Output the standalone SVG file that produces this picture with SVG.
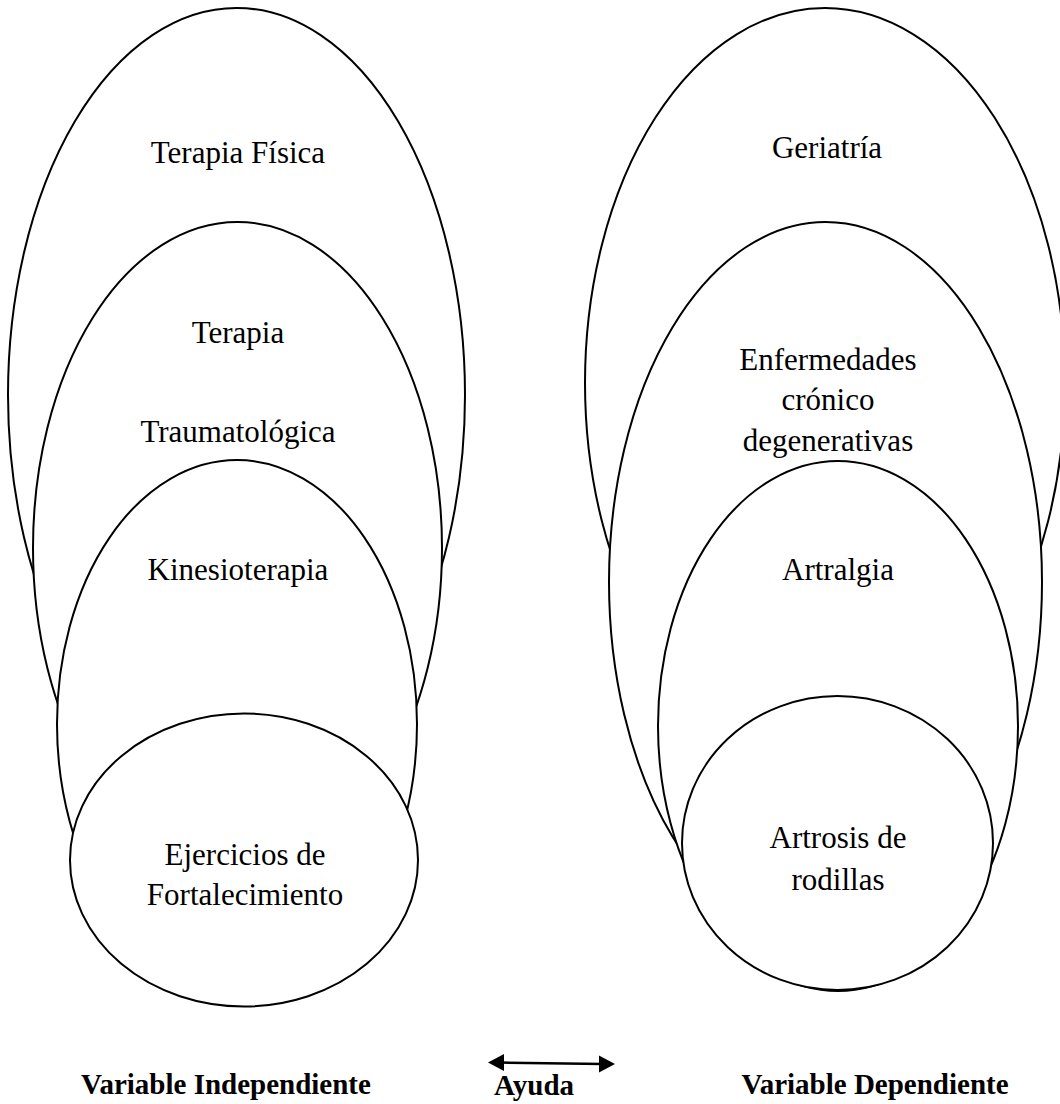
<svg xmlns="http://www.w3.org/2000/svg" width="1060" height="1104" viewBox="0 0 1060 1104">
<style>
.e{fill:#fff;stroke:#000;stroke-width:2}
.t{font-family:"Liberation Serif","Times New Roman",serif;font-size:31px;fill:#000;text-anchor:middle}
.b{font-family:"Liberation Serif","Times New Roman",serif;font-size:29px;font-weight:bold;fill:#000;text-anchor:middle}
.h{fill:#000}
</style>
<rect width="1060" height="1104" fill="#fff"/>
<g id="terapia-fisica"><ellipse class="e" cx="236.5" cy="395" rx="228.5" ry="387"/><text class="t" x="238" y="163">Terapia Física</text></g>
<g id="terapia-traumatologica"><ellipse class="e" cx="237.5" cy="548" rx="204.5" ry="326"/><text class="t" x="238" y="343">Terapia</text><text class="t" x="238" y="442">Traumatológica</text></g>
<g id="kinesioterapia"><ellipse class="e" cx="237" cy="724" rx="180" ry="264"/><text class="t" x="238" y="580">Kinesioterapia</text></g>
<g id="ejercicios"><ellipse class="e" cx="244" cy="860" rx="174" ry="146.5"/><text class="t" x="245" y="865">Ejercicios de</text><text class="t" x="245" y="905">Fortalecimiento</text></g>
<g id="geriatria"><ellipse class="e" cx="825" cy="383" rx="240" ry="375"/><text class="t" x="827" y="158">Geriatría</text></g>
<g id="enfermedades"><ellipse class="e" cx="825.5" cy="582" rx="216.5" ry="360"/><text class="t" x="828" y="370">Enfermedades</text><text class="t" x="828" y="410">crónico</text><text class="t" x="828" y="451">degenerativas</text></g>
<g id="artralgia"><ellipse class="e" cx="838" cy="726" rx="180" ry="265"/><text class="t" x="838" y="580">Artralgia</text></g>
<g id="artrosis"><ellipse class="e" cx="837.5" cy="843" rx="155.5" ry="147"/><text class="t" x="838" y="848">Artrosis de</text><text class="t" x="838" y="890">rodillas</text></g>
<g id="connectors">
<line x1="500" y1="1062.6" x2="603" y2="1063.9" stroke="#000" stroke-width="2.5"/>
<polygon class="h" points="488,1062.5 504,1054 504,1071"/>
<polygon class="h" points="615,1064 599,1055.5 599,1072.5"/>
</g>
<g id="labels">
<text class="b" x="226" y="1094">Variable Independiente</text>
<text class="b" x="534" y="1095">Ayuda</text>
<text class="b" x="875" y="1094">Variable Dependiente</text>
</g>
</svg>
